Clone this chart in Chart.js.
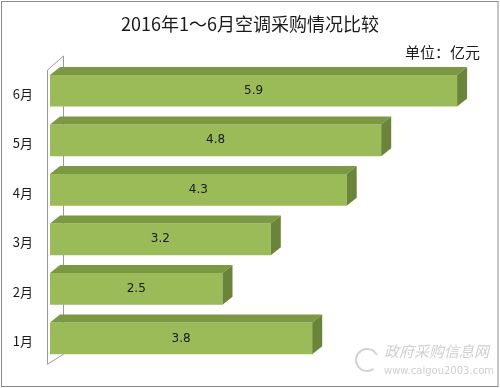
<!DOCTYPE html>
<html>
<head>
<meta charset="utf-8">
<script src="https://cdn.jsdelivr.net/npm/chart.js"></script>
<style>
  body { margin: 0; background: #fff; }
  #wrap { width: 500px; height: 388px; }
</style>
</head>
<body>
<div id="wrap"><canvas id="mycanvas" width="500" height="388"></canvas></div>
<script>
var months = ['6月', '5月', '4月', '3月', '2月', '1月'];
var amounts = [5.9, 4.8, 4.3, 3.2, 2.5, 3.8];
var chartTitle = '2016年1～6月空调采购情况比较';
var unitText = '单位：亿元';

var cjk = '"Noto Sans CJK SC", "Noto Sans", sans-serif';
var depthX = 10, depthY = 8;

// frame, title, the unit text and the watermark
var decor = {
    id: 'decor',
    beforeDraw: function(chart){
        var ctx = chart.ctx;
        ctx.save();
        ctx.fillStyle = '#fff';
        ctx.fillRect(0, 0, chart.width, chart.height);
        ctx.strokeStyle = '#8c8c8c';
        ctx.lineWidth = 1;
        ctx.strokeRect(1.5, 1.5, chart.width - 3.5, chart.height - 3);

        ctx.fillStyle = '#1a1a1a';
        ctx.font = '18px ' + cjk;
        ctx.textAlign = 'center';
        ctx.textBaseline = 'middle';
        ctx.fillText(chartTitle, 250, 24);

        ctx.font = '15px ' + cjk;
        ctx.textAlign = 'right';
        ctx.fillText(unitText, 480, 52);

        // watermark
        ctx.strokeStyle = '#d2d2d2';
        ctx.lineWidth = 2;
        ctx.beginPath();
        ctx.arc(367, 360, 11, Math.PI * 0.3, Math.PI * 1.85);
        ctx.stroke();
        ctx.fillStyle = '#cfcfcf';
        ctx.font = 'italic 15px ' + cjk;
        ctx.textAlign = 'left';
        ctx.fillText('政府采购信息网', 384, 351);
        ctx.font = '10px "DejaVu Sans", sans-serif';
        ctx.fillText('www.caigou2003.com', 384, 371);
        ctx.restore();
    },
    beforeDatasetsDraw: function(chart){
        var ctx = chart.ctx, a = chart.chartArea;
        ctx.save();
        ctx.strokeStyle = '#9a9a9a';
        ctx.lineWidth = 1;
        ctx.beginPath();
        ctx.moveTo(a.left - 2.5, a.top + 4);
        ctx.lineTo(a.left + 13.5, a.top - 10);
        ctx.lineTo(a.left + 13.5, a.bottom - 9);
        ctx.lineTo(a.left - 2.5, a.bottom + 1);
        ctx.closePath();
        ctx.stroke();
        ctx.restore();
    },
    afterDatasetsDraw: function(chart){
        var ctx = chart.ctx;
        var meta = chart.getDatasetMeta(0);
        ctx.save();
        meta.data.forEach(function(bar, i){
            var left = bar.base, right = bar.x;
            var top = bar.y - bar.height / 2, bottom = bar.y + bar.height / 2;
            // top face
            ctx.fillStyle = '#7b9942';
            ctx.beginPath();
            ctx.moveTo(left, top);
            ctx.lineTo(left + depthX, top - depthY);
            ctx.lineTo(right + depthX, top - depthY);
            ctx.lineTo(right, top);
            ctx.closePath();
            ctx.fill();
            // side face
            ctx.fillStyle = '#6a8537';
            ctx.beginPath();
            ctx.moveTo(right, top);
            ctx.lineTo(right + depthX, top - depthY);
            ctx.lineTo(right + depthX, bottom - depthY);
            ctx.lineTo(right, bottom);
            ctx.closePath();
            ctx.fill();
            // value label
            ctx.fillStyle = '#1a1a1a';
            ctx.font = '12px "DejaVu Sans", sans-serif';
            ctx.textAlign = 'center';
            ctx.textBaseline = 'middle';
            ctx.fillText(amounts[i].toFixed(1), (left + right) / 2, bar.y);
        });
        ctx.restore();
    }
};

var ctx = document.getElementById('mycanvas');
var barGraph = new Chart(ctx, {
    type: 'bar',
    data: {
        labels: months,
        datasets: [{
            label: '采购额',
            data: amounts,
            backgroundColor: '#9bbb59',
            borderWidth: 0,
            categoryPercentage: 0.8,
            barPercentage: 0.8
        }]
    },
    options: {
        indexAxis: 'y',
        responsive: false,
        animation: false,
        layout: { padding: { top: 66, bottom: 22, left: 0, right: 36 } },
        plugins: {
            legend: { display: false },
            tooltip: { enabled: false }
        },
        scales: {
            x: { display: false, min: 0, max: 6 },
            y: {
                afterFit: function(axis){ axis.width = 50; },
                grid: { display: false, drawTicks: false },
                border: { display: false },
                ticks: {
                    color: '#1a1a1a',
                    padding: 17,
                    labelOffset: 3,
                    font: { size: 13, family: cjk }
                }
            }
        }
    },
    plugins: [decor]
});
</script>
</body>
</html>
